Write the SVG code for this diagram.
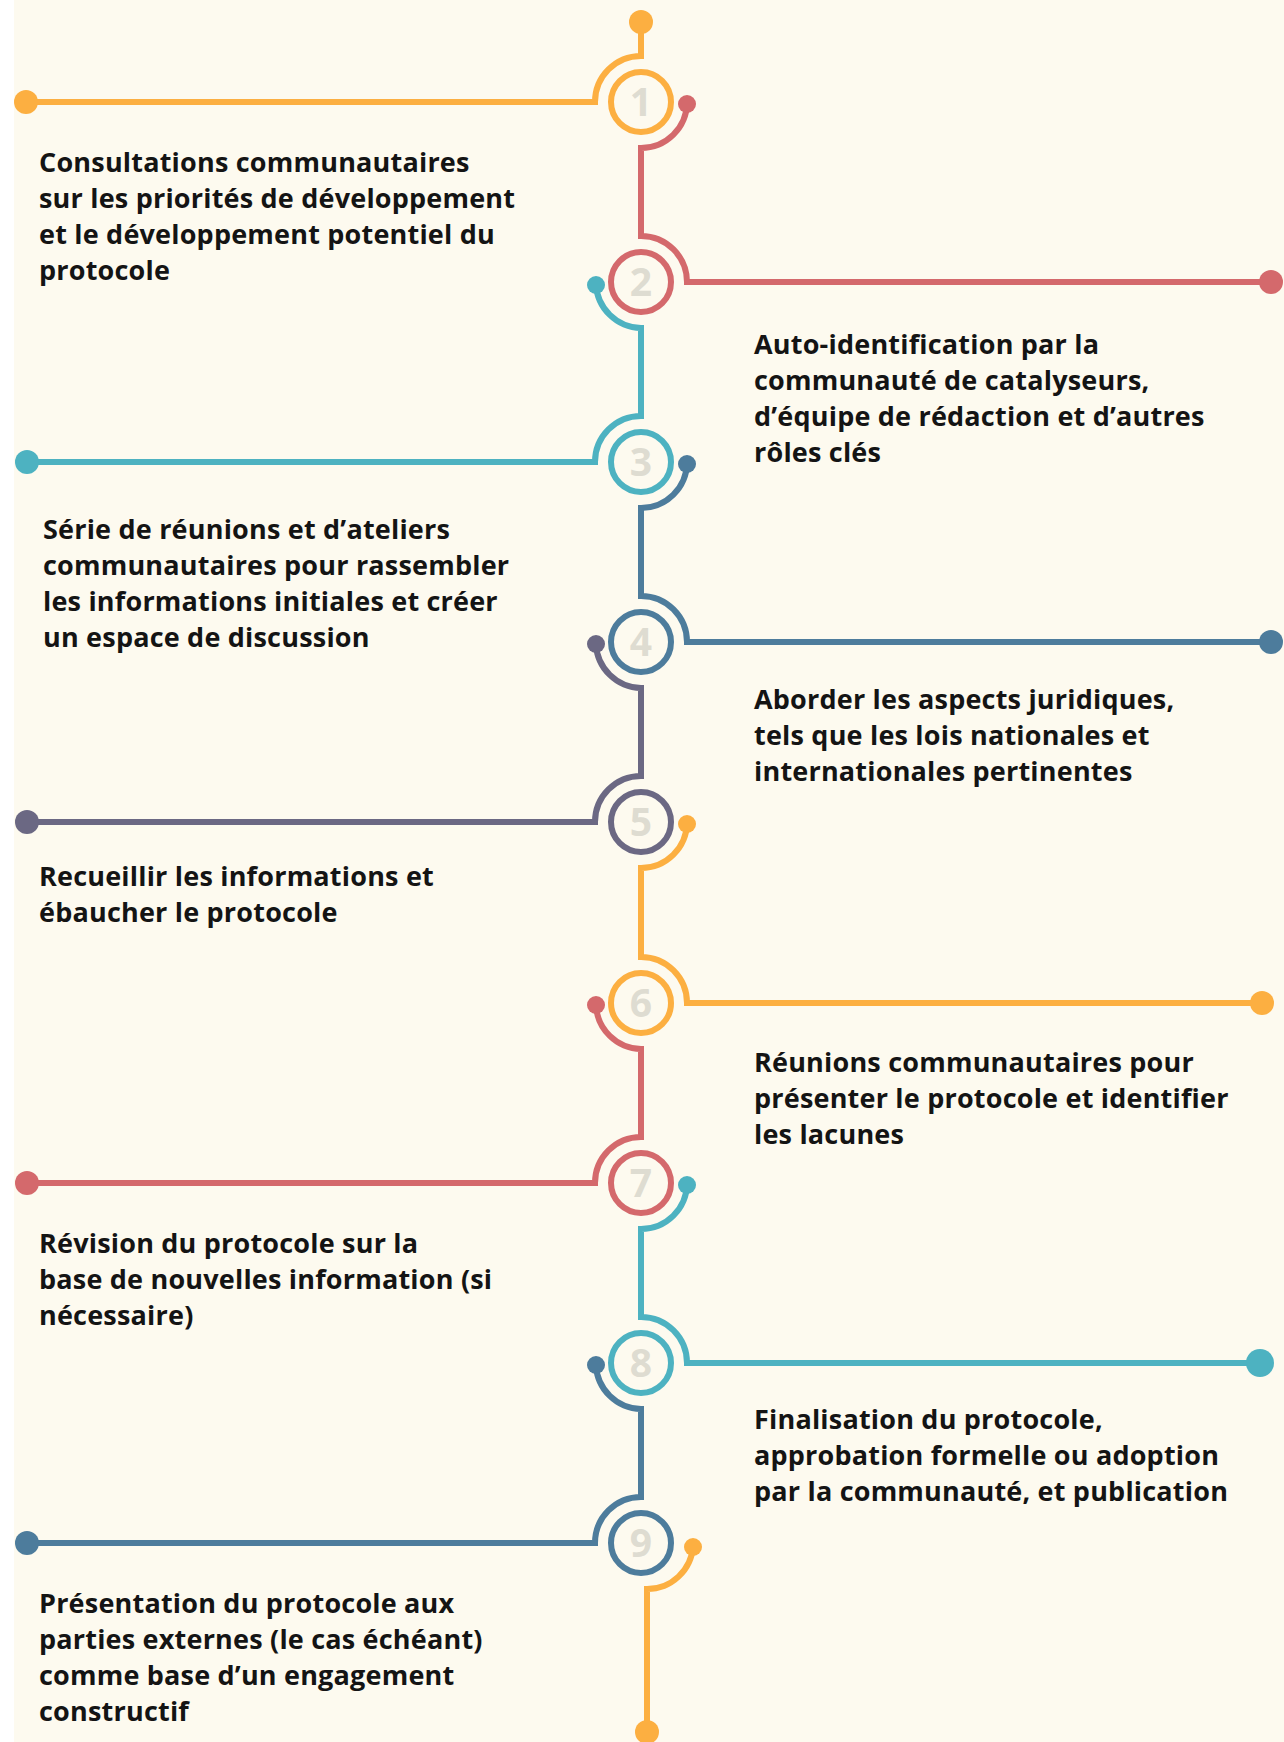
<svg xmlns="http://www.w3.org/2000/svg" width="1284" height="1742" viewBox="0 0 1284 1742">
<style>
.ln{fill:none;stroke-width:6;stroke-linecap:butt}
.ring{fill:none;stroke-width:6}
.num{font-family:"Open Sans","Liberation Sans",sans-serif;font-weight:700;font-size:39px;fill:#DEDCD1;text-anchor:middle}
.t{font-family:"Open Sans","Liberation Sans",sans-serif;font-weight:700;font-size:27px;letter-spacing:0.2px;fill:#141414}
.o{stroke:#FCAF41}.oF{fill:#FCAF41}
.r{stroke:#D4696C}.rF{fill:#D4696C}
.c{stroke:#4DB2C1}.cF{fill:#4DB2C1}
.b{stroke:#4D7C9C}.bF{fill:#4D7C9C}
.p{stroke:#6B6883}.pF{fill:#6B6883}
</style>
<rect x="0" y="0" width="1284" height="1742" fill="#FFFFFF"/>
<rect x="14" y="0" width="1270" height="1742" fill="#FDFAEF"/>
<g id="connectors">
<path class="ln o" d="M641 22 V56 A46 46 0 0 0 595 102 H26"/>
<path class="ln r" d="M687 103 A46 46 0 0 1 641 148 V236 A46 46 0 0 1 687 282 H1271"/>
<path class="ln c" d="M596 284 A46 46 0 0 0 641 328 V416 A46 46 0 0 0 595 462 H27"/>
<path class="ln b" d="M687 463 A46 46 0 0 1 641 508 V596 A46 46 0 0 1 687 642 H1271"/>
<path class="ln p" d="M596 644 A46 46 0 0 0 641 688 V776 A46 46 0 0 0 595 822 H27"/>
<path class="ln o" d="M687 823 A46 46 0 0 1 641 868 V957 A46 46 0 0 1 687 1003 H1262"/>
<path class="ln r" d="M596 1005 A46 46 0 0 0 641 1049 V1137 A46 46 0 0 0 595 1183 H27"/>
<path class="ln c" d="M687 1184 A46 46 0 0 1 641 1229 V1317 A46 46 0 0 1 687 1363 H1260"/>
<path class="ln b" d="M596 1365 A46 46 0 0 0 641 1409 V1497 A46 46 0 0 0 595 1543 H27"/>
<path class="ln o" d="M693 1546 A46 46 0 0 1 647 1589 V1732"/>
<circle class="oF" cx="641" cy="22" r="12"/>
<circle class="oF" cx="26" cy="102" r="12"/>
<circle class="rF" cx="1271" cy="282" r="12"/>
<circle class="cF" cx="27" cy="462" r="12"/>
<circle class="bF" cx="1271" cy="642" r="12"/>
<circle class="pF" cx="27" cy="822" r="12"/>
<circle class="oF" cx="1262" cy="1003" r="12"/>
<circle class="rF" cx="27" cy="1183" r="12"/>
<circle class="cF" cx="1260" cy="1363" r="14"/>
<circle class="bF" cx="27" cy="1543" r="12"/>
<circle class="oF" cx="647" cy="1732" r="12"/>
<circle class="rF" cx="687" cy="104" r="9"/>
<circle class="cF" cx="596" cy="285" r="9"/>
<circle class="bF" cx="687" cy="464" r="9"/>
<circle class="pF" cx="596" cy="644" r="9"/>
<circle class="oF" cx="687" cy="824" r="9"/>
<circle class="rF" cx="596" cy="1005" r="9"/>
<circle class="cF" cx="687" cy="1185" r="9"/>
<circle class="bF" cx="596" cy="1365" r="9"/>
<circle class="oF" cx="693" cy="1547" r="9"/>
</g>
<g id="step1"><circle class="ring o" cx="641" cy="102" r="30"/><text class="num" x="641" y="116">1</text>
<text class="t" x="39" y="172">Consultations communautaires</text>
<text class="t" x="39" y="208">sur les priorités de développement</text>
<text class="t" x="39" y="244">et le développement potentiel du</text>
<text class="t" x="39" y="280">protocole</text></g>
<g id="step2"><circle class="ring r" cx="641" cy="282" r="30"/><text class="num" x="641" y="296">2</text>
<text class="t" x="754" y="354">Auto-identification par la</text>
<text class="t" x="754" y="390">communauté de catalyseurs,</text>
<text class="t" x="754" y="426">d’équipe de rédaction et d’autres</text>
<text class="t" x="754" y="462">rôles clés</text></g>
<g id="step3"><circle class="ring c" cx="641" cy="462" r="30"/><text class="num" x="641" y="476">3</text>
<text class="t" x="43" y="539">Série de réunions et d’ateliers</text>
<text class="t" x="43" y="575">communautaires pour rassembler</text>
<text class="t" x="43" y="611">les informations initiales et créer</text>
<text class="t" x="43" y="647">un espace de discussion</text></g>
<g id="step4"><circle class="ring b" cx="641" cy="642" r="30"/><text class="num" x="641" y="656">4</text>
<text class="t" x="754" y="709">Aborder les aspects juridiques,</text>
<text class="t" x="754" y="745">tels que les lois nationales et</text>
<text class="t" x="754" y="781">internationales pertinentes</text></g>
<g id="step5"><circle class="ring p" cx="641" cy="822" r="30"/><text class="num" x="641" y="836">5</text>
<text class="t" x="39" y="886">Recueillir les informations et</text>
<text class="t" x="39" y="922">ébaucher le protocole</text></g>
<g id="step6"><circle class="ring o" cx="641" cy="1003" r="30"/><text class="num" x="641" y="1017">6</text>
<text class="t" x="754" y="1072">Réunions communautaires pour</text>
<text class="t" x="754" y="1108">présenter le protocole et identifier</text>
<text class="t" x="754" y="1144">les lacunes</text></g>
<g id="step7"><circle class="ring r" cx="641" cy="1183" r="30"/><text class="num" x="641" y="1197">7</text>
<text class="t" x="39" y="1253">Révision du protocole sur la</text>
<text class="t" x="39" y="1289">base de nouvelles information (si</text>
<text class="t" x="39" y="1325">nécessaire)</text></g>
<g id="step8"><circle class="ring c" cx="641" cy="1363" r="30"/><text class="num" x="641" y="1377">8</text>
<text class="t" x="754" y="1429">Finalisation du protocole,</text>
<text class="t" x="754" y="1465">approbation formelle ou adoption</text>
<text class="t" x="754" y="1501">par la communauté, et publication</text></g>
<g id="step9"><circle class="ring b" cx="641" cy="1543" r="30"/><text class="num" x="641" y="1557">9</text>
<text class="t" x="39" y="1613">Présentation du protocole aux</text>
<text class="t" x="39" y="1649">parties externes (le cas échéant)</text>
<text class="t" x="39" y="1685">comme base d’un engagement</text>
<text class="t" x="39" y="1721">constructif</text></g>
</svg>
